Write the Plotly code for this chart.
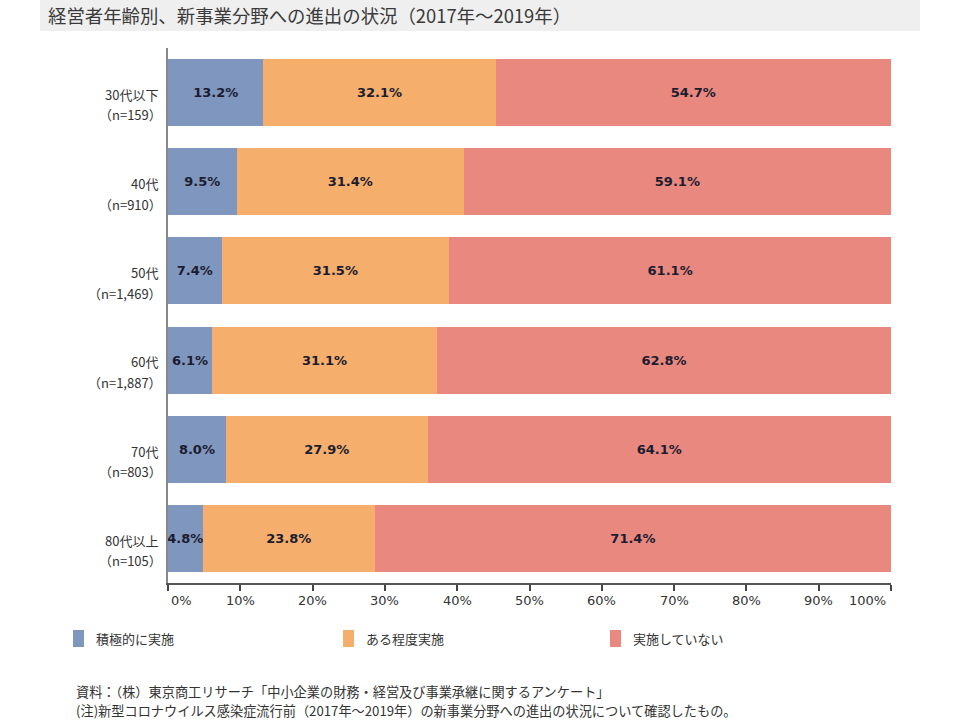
import plotly.graph_objects as go

categories = ["30代以下", "40代", "50代", "60代", "70代", "80代以上"]
sample_sizes = ["（n=159）", "（n=910）", "（n=1,469）", "（n=1,887）", "（n=803）", "（n=105）"]
active = [13.2, 9.5, 7.4, 6.1, 8.0, 4.8]
somewhat = [32.1, 31.4, 31.5, 31.1, 27.9, 23.8]
not_done = [54.7, 59.1, 61.1, 62.8, 64.1, 71.4]
series_names = ["積極的に実施", "ある程度実施", "実施していない"]
tick_vals = [0, 10, 20, 30, 40, 50, 60, 70, 80, 90, 100]
tick_text = [f"{v}%" for v in tick_vals]

colors = ["#7F96BF", "#F5AE6B", "#E9887F"]
FONT = "DejaVu Sans, Noto Sans CJK JP, sans-serif"
JFONT = "Noto Sans CJK JP, sans-serif"

fig = go.Figure()
for name, vals, col in zip(series_names, [active, somewhat, not_done], colors):
    fig.add_trace(go.Bar(
        y=categories, x=vals, name=name, orientation="h",
        marker=dict(color=col, line=dict(width=0)),
        text=[f"{v:.1f}%" for v in vals],
        textposition="inside", insidetextanchor="middle", textangle=0,
        textfont=dict(family=FONT, size=13, color="#1c1c30", weight="bold"),
        cliponaxis=False, constraintext="none", showlegend=False,
    ))

W, H = 963, 720
L, R, T, B = 168, 72, 48, 137
pw, ph = W - L - R, H - T - B

def px(x):
    return (x - L) / pw

def py(y):
    return (H - B - y) / ph

fig.update_layout(
    width=W, height=H,
    margin=dict(l=L, r=R, t=T, b=B),
    barmode="stack", bargap=0.25,
    paper_bgcolor="white", plot_bgcolor="white",
    uniformtext=dict(minsize=13, mode="show"),
    font=dict(family=FONT, color="#333333"),
    xaxis=dict(range=[0, 100], tickvals=tick_vals, showticklabels=False,
               showgrid=False, zeroline=False, showline=True, linecolor="#555555",
               linewidth=1.5, ticks="outside", ticklen=6, tickwidth=1.5, tickcolor="#444444",
               fixedrange=True),
    yaxis=dict(autorange="reversed", showgrid=False, showline=True,
               linecolor="#888888", linewidth=1.5, ticks="", showticklabels=False),
    showlegend=False,
)

# x-axis tick labels (first/last kept inside the axis span, as in the original)
for v, t in zip(tick_vals, tick_text):
    anchor = "left" if v == tick_vals[0] else ("right" if v == tick_vals[-1] else "center")
    shift = 1 if anchor == "left" else (-3 if anchor == "right" else 0)
    fig.add_annotation(text=t, xref="x", yref="paper", x=v, y=py(600), xshift=shift,
                       xanchor=anchor, yanchor="middle", showarrow=False,
                       font=dict(family=FONT, size=13, color="#333333"))

# y-axis category labels (two lines)
for i, (c, n) in enumerate(zip(categories, sample_sizes)):
    fig.add_annotation(text=c, xref="paper", yref="y", x=px(160), y=i + 0.02,
                       xanchor="right", yanchor="middle", showarrow=False,
                       font=dict(family=JFONT, size=13, color="#333333"))
    fig.add_annotation(text=n, xref="paper", yref="y", x=px(164), y=i + 0.25,
                       xanchor="right", yanchor="middle", showarrow=False,
                       font=dict(family=JFONT, size=13, color="#333333"))

# legend (manual)
legend_x = [73, 343, 610]
for name, col, lx in zip(series_names, colors, legend_x):
    fig.add_shape(type="rect", xref="paper", yref="paper",
                  x0=px(lx), x1=px(lx + 11), y0=py(647), y1=py(630),
                  fillcolor=col, line=dict(width=0))
    fig.add_annotation(text=name, xref="paper", yref="paper", x=px(lx + 21), y=py(638),
                       xanchor="left", yanchor="middle", showarrow=False,
                       font=dict(family=JFONT, size=13, color="#333333"))

# title band
fig.add_shape(type="rect", xref="paper", yref="paper",
              x0=px(40), x1=px(920), y0=py(0), y1=py(31),
              fillcolor="#EFEFEF", line=dict(width=0), layer="below")
fig.add_annotation(text="経営者年齢別、新事業分野への進出の状況（2017年～2019年）",
                   xref="paper", yref="paper", x=px(46), y=py(15),
                   xanchor="left", yanchor="middle", showarrow=False,
                   font=dict(family=JFONT, size=18.4, color="#3a3a3a"))
notes = ["資料：（株）東京商工リサーチ「中小企業の財務・経営及び事業承継に関するアンケート」",
         "(注)新型コロナウイルス感染症流行前（2017年～2019年）の新事業分野への進出の状況について確認したもの。"]
for i, t in enumerate(notes):
    fig.add_annotation(text=t, xref="paper", yref="paper", x=px(74), y=py(691 + 19 * i),
                       xanchor="left", yanchor="middle", showarrow=False,
                       font=dict(family=JFONT, size=13.2, color="#333333"))

fig.write_html("out.html")
